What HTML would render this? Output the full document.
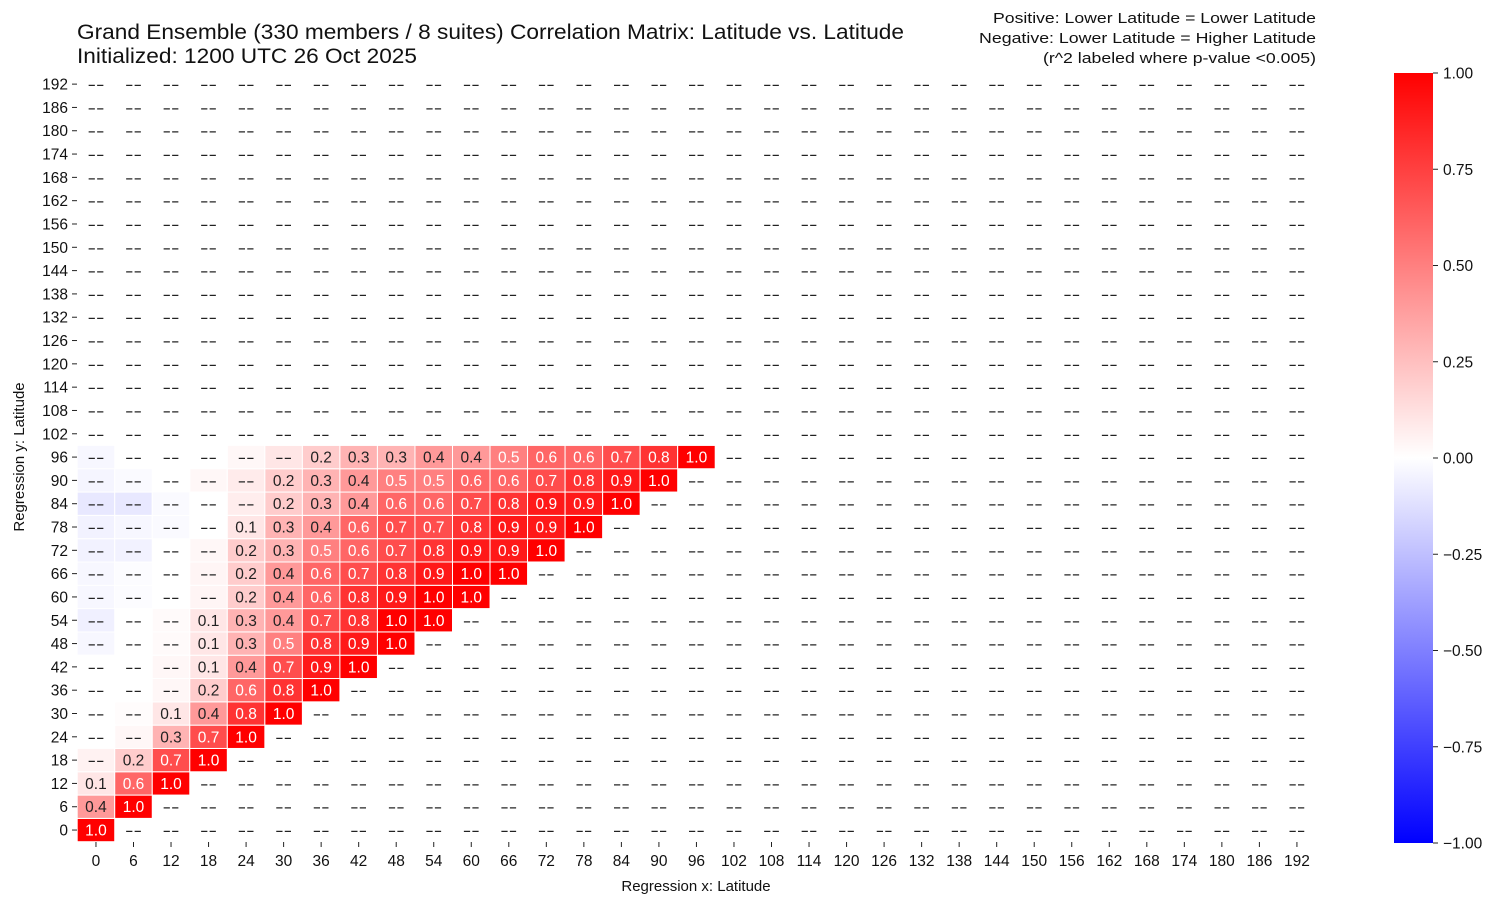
<!DOCTYPE html>
<html><head><meta charset="utf-8">
<style>
html,body{margin:0;padding:0;background:#fff;}
svg{display:block;font-family:"Liberation Sans",sans-serif;}
</style></head>
<body>
<svg id="s" width="1503" height="907" xmlns="http://www.w3.org/2000/svg">
<defs>
<linearGradient id="cb" x1="0" y1="1" x2="0" y2="0">
<stop offset="0" stop-color="#0000ff"/>
<stop offset="0.5" stop-color="#ffffff"/>
<stop offset="1" stop-color="#ff0000"/>
</linearGradient>
</defs>
<text x="77" y="39" font-size="21" fill="#111" textLength="827" lengthAdjust="spacingAndGlyphs">Grand Ensemble (330 members / 8 suites) Correlation Matrix: Latitude vs. Latitude</text>
<text x="77" y="63" font-size="21" fill="#111" textLength="340" lengthAdjust="spacingAndGlyphs">Initialized: 1200 UTC 26 Oct 2025</text>
<text x="993" y="23" font-size="15" fill="#111" textLength="323" lengthAdjust="spacingAndGlyphs">Positive: Lower Latitude = Lower Latitude</text>
<text x="979" y="43" font-size="15" fill="#111" textLength="337" lengthAdjust="spacingAndGlyphs">Negative: Lower Latitude = Higher Latitude</text>
<text x="1043" y="63" font-size="15" fill="#111" textLength="273" lengthAdjust="spacingAndGlyphs">(r^2 labeled where p-value &lt;0.005)</text>
<g id="g"></g>
<rect x="1394" y="73" width="39" height="770" fill="url(#cb)"/>
<text x="696" y="891" font-size="15" text-anchor="middle" fill="#111">Regression x: Latitude</text>
<text transform="translate(24,457) rotate(-90)" font-size="15" text-anchor="middle" fill="#111">Regression y: Latitude</text>
</svg>
<script>
var L={0:[1.0],1:[0.4,1.0],2:[0.1,0.6,1.0],3:[null,0.2,0.7,1.0],4:[null,null,0.3,0.7,1.0],
5:[null,null,0.1,0.4,0.8,1.0],6:[null,null,null,0.2,0.6,0.8,1.0],7:[null,null,null,0.1,0.4,0.7,0.9,1.0],
8:[null,null,null,0.1,0.3,0.5,0.8,0.9,1.0],9:[null,null,null,0.1,0.3,0.4,0.7,0.8,1.0,1.0],
10:[null,null,null,null,0.2,0.4,0.6,0.8,0.9,1.0,1.0],11:[null,null,null,null,0.2,0.4,0.6,0.7,0.8,0.9,1.0,1.0],
12:[null,null,null,null,0.2,0.3,0.5,0.6,0.7,0.8,0.9,0.9,1.0],13:[null,null,null,null,0.1,0.3,0.4,0.6,0.7,0.7,0.8,0.9,0.9,1.0],
14:[null,null,null,null,null,0.2,0.3,0.4,0.6,0.6,0.7,0.8,0.9,0.9,1.0],15:[null,null,null,null,null,0.2,0.3,0.4,0.5,0.5,0.6,0.6,0.7,0.8,0.9,1.0],
16:[null,null,null,null,null,null,0.2,0.3,0.3,0.4,0.4,0.5,0.6,0.6,0.7,0.8,1.0]};
var F={};
function f(j,i,r){F[j+','+i]=r;}
for(var j=8;j<=16;j++){f(j,0,-0.03);}
f(14,0,-0.09);f(14,1,-0.09);f(12,0,-0.05);f(12,1,-0.05);f(13,0,-0.05);f(15,0,-0.04);f(15,1,-0.02);f(11,1,-0.01);f(10,1,-0.01);f(9,0,-0.06);f(13,1,-0.03);f(13,2,-0.02);f(14,2,-0.02);
f(3,0,0.05);f(4,1,0.03);f(5,1,0.01);f(6,2,0.03);f(7,2,0.03);f(8,2,0.02);f(9,2,0.02);f(10,3,0.04);f(11,3,0.04);f(12,3,0.03);f(15,3,0.03);f(15,4,0.08);f(14,4,0.07);f(16,4,0.03);f(16,5,0.1);
var g=document.getElementById('g'),NS='http://www.w3.org/2000/svg';
var x0=77.2,cw=37.53,y1=841.7,ch=23.31;
function el(t,a,txt){var e=document.createElementNS(NS,t);for(var k in a)e.setAttribute(k,a[k]);if(txt!=null)e.textContent=txt;g.appendChild(e);return e;}
function col(r){var v=Math.max(-1,Math.min(1,r));if(v>=0){var c=Math.round(255*(1-v));return 'rgb(255,'+c+','+c+')';}var c=Math.round(255*(1+v));return 'rgb('+c+','+c+',255)';}
for(var j=0;j<33;j++){for(var i=0;i<33;i++){
 var x=x0+i*cw,y=y1-(j+1)*ch,lab=(L[j]&&L[j][i]!=null)?L[j][i]:null,r=0;
 if(lab!=null)r=lab;else if(F[j+','+i]!=null)r=F[j+','+i];
 if(r!==0)el('rect',{x:x,y:y,width:cw,height:ch,fill:col(r),stroke:'#fff','stroke-width':1});
 var t=lab!=null?lab.toFixed(1):'--';
 var a={x:x+cw/2,y:y+ch/2+5.5,'font-size':15.5,'text-anchor':'middle',fill:(lab!=null&&lab>=0.5)?'#fff':'#222'};
 if(lab==null){a.textLength=17;a.lengthAdjust='spacingAndGlyphs';a.x=x+cw/2-8.5;a['text-anchor']='start';}
 el('text',a,t);
}}
for(var i=0;i<33;i++){var cx=x0+(i+0.5)*cw;el('line',{x1:cx,x2:cx,y1:842,y2:847,stroke:'#222'});el('text',{x:cx,y:866,'font-size':15.5,'text-anchor':'middle',fill:'#111'},String(i*6));}
for(var j=0;j<33;j++){var cy=y1-(j+0.5)*ch;el('line',{x1:72,x2:77,y1:cy,y2:cy,stroke:'#222'});el('text',{x:68,y:cy+5.5,'font-size':15.5,'text-anchor':'end',fill:'#111'},String(j*6));}
var vals=['1.00','0.75','0.50','0.25','0.00','\u22120.25','\u22120.50','\u22120.75','\u22121.00'];
for(var k=0;k<9;k++){var yy=73+k*770/8;el('line',{x1:1433,x2:1438,y1:yy,y2:yy,stroke:'#222'});el('text',{x:1443,y:yy+5.5,'font-size':15.5,fill:'#111'},vals[k]);}
</script>
</body></html>
